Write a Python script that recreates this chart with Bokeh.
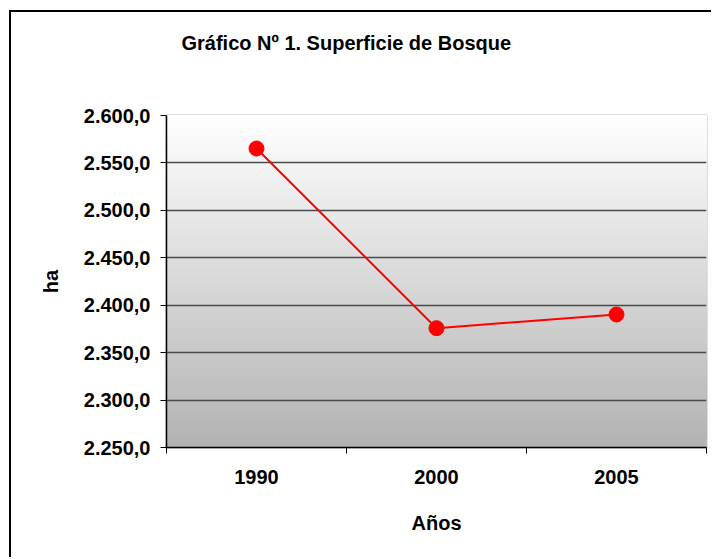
from bokeh.plotting import figure
from bokeh.models import Range1d, FixedTicker, BoxAnnotation, Title, LinearAxis
from bokeh.embed import file_html
from bokeh.resources import INLINE

# ---- data ----
years = ["1990", "2000", "2005"]
superficie = [2565.2, 2375.8, 2390.2]
y_ticks = [2250, 2300, 2350, 2400, 2450, 2500, 2550, 2600]
title_text = "Gráfico Nº 1.  Superficie de Bosque"
x_label = "Años"
y_label = "ha"

FONT = "Liberation Sans"
FRAME_W, FRAME_H = 540, 332

def fmt(v):
    s = f"{v:,.1f}"
    return s.replace(",", "X").replace(".", ",").replace("X", ".")

xs = [i + 0.5 for i in range(len(years))]

p = figure(frame_width=FRAME_W, frame_height=FRAME_H, output_backend="svg", toolbar_location=None,
           x_range=Range1d(0, len(years)), y_range=Range1d(y_ticks[0], y_ticks[-1]),
           min_border_left=155, min_border_top=103, min_border_right=5, min_border_bottom=110)
p.margin = (10, 0, 0, 9)
p.styles = {"border-left": "2px solid black", "border-top": "2px solid black"}

p.background_fill_color = "white"
p.border_fill_color = "white"
p.outline_line_color = "#BFBFBF"
p.outline_line_width = 2

# gradient background (white at top -> gray at bottom), overlapping bands to avoid seams
n = 120
lo, hi = y_ticks[0], y_ticks[-1]
for k in range(n):
    b = lo + (hi - lo) * k / n
    frac = (k + 0.5) / n  # 0 bottom, 1 top
    g = int(round(0xB2 + (0xFF - 0xB2) * frac))
    col = "#%02x%02x%02x" % (g, g, g)
    p.add_layout(BoxAnnotation(bottom=b, top=hi, fill_color=col, fill_alpha=1,
                               line_alpha=0, level="image"))

# invisible spacer axis above the frame (one hidden tick gives it height), then the title
spacer = LinearAxis(ticker=FixedTicker(ticks=[p.x_range.start]), axis_line_color=None,
                    major_tick_line_color=None, minor_tick_line_color=None,
                    major_tick_in=0, major_tick_out=62, minor_tick_in=0, minor_tick_out=0,
                    major_label_standoff=0, major_label_text_font_size="1px",
                    major_label_text_alpha=0,
                    major_label_overrides={p.x_range.start: ""})
p.add_layout(spacer, "above")
p.add_layout(Title(text=title_text, align="left", offset=15, standoff=0,
                   text_font=FONT, text_font_size="20px", text_font_style="bold",
                   text_color="black"), "above")

# y axis
p.yaxis.ticker = FixedTicker(ticks=y_ticks)
p.yaxis.major_label_overrides = {v: fmt(v) for v in y_ticks}
p.yaxis.major_label_text_font = FONT
p.yaxis.major_label_text_font_size = "20px"
p.yaxis.major_label_text_font_style = "bold"
p.yaxis.major_label_text_color = "black"
p.yaxis.major_label_standoff = 10
p.yaxis.major_tick_in = 0
p.yaxis.major_tick_out = 6
p.yaxis.minor_tick_out = 0
p.yaxis.minor_tick_in = 0
p.yaxis.axis_line_color = "black"
p.yaxis.axis_line_width = 1.5
p.yaxis.major_tick_line_color = "black"
p.yaxis.axis_label = y_label
p.yaxis.axis_label_text_font = FONT
p.yaxis.axis_label_text_font_size = "20px"
p.yaxis.axis_label_text_font_style = "bold"
p.yaxis.axis_label_text_color = "black"
p.yaxis.axis_label_standoff = 19

# x axis (below): labels at band centres, ticks at band boundaries
xax = p.below[0]
xax.ticker = FixedTicker(ticks=xs, minor_ticks=list(range(len(years) + 1)))
xax.major_label_overrides = {x: y for x, y in zip(xs, years)}
xax.major_tick_out = 0
xax.major_tick_in = 0
xax.minor_tick_out = 6
xax.minor_tick_in = 0
xax.minor_tick_line_color = "black"
xax.minor_tick_line_width = 1
xax.axis_line_color = "black"
xax.axis_line_width = 1.5
xax.major_label_text_font = FONT
xax.major_label_text_font_size = "20px"
xax.major_label_text_font_style = "bold"
xax.major_label_text_color = "black"
xax.major_label_standoff = 16
xax.axis_label = x_label
xax.axis_label_text_font = FONT
xax.axis_label_text_font_size = "20px"
xax.axis_label_text_font_style = "bold"
xax.axis_label_text_color = "black"
xax.axis_label_standoff = 25

# grid
p.xgrid.grid_line_color = None
p.ygrid.ticker = FixedTicker(ticks=y_ticks[1:-1])
p.ygrid.grid_line_color = "#4a4a4a"
p.ygrid.grid_line_width = 1.3

# series
p.line(xs, superficie, line_color="#FF0000", line_width=2)
p.scatter(xs, superficie, size=15, fill_color="#FF0000", line_color="#FF0000")

open("out.html", "w").write(file_html(p, INLINE))
